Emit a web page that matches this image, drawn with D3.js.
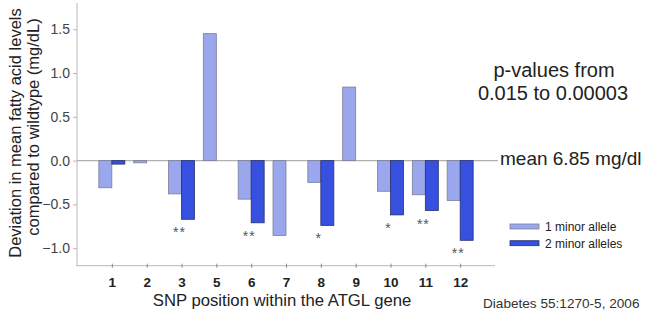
<!DOCTYPE html>
<html><head><meta charset="utf-8">
<script src="https://cdn.jsdelivr.net/npm/d3@7"></script>
<style>body{margin:0;background:#fff;font-family:"Liberation Sans",Arial,sans-serif;}</style>
</head><body><svg id="c" width="646" height="320"></svg>
<script>
const categories = ["1","2","3","5","6","7","8","9","10","11","12"];
const oneMinor = [-0.31,-0.025,-0.38,1.45,-0.44,-0.855,-0.25,0.84,-0.35,-0.39,-0.455];
const twoMinor = [-0.04,null,-0.67,null,-0.71,null,-0.74,null,-0.62,-0.57,-0.91];
const stars = ["","","**","","**","","*","","*","**","**"];
const yTicks = [-1.0,-0.5,0.0,0.5,1.0,1.5];
const seriesNames = ["1 minor allele","2 minor alleles"];

const svg = d3.select("#c");
const x = d3.scalePoint().domain(categories).range([77,495]).padding(1);
const y = d3.scaleLinear().domain([-1.2,1.8]).range([265.7,3]);
const bw = 13;
const lightFill = "#9ba7ec", darkFill = "#3650e0";
const FF = "Liberation Sans, Arial, sans-serif";

// zero line
svg.append("line").attr("x1",77).attr("x2",498).attr("y1",y(0)).attr("y2",y(0))
  .attr("stroke","#b0b0b0").attr("stroke-width",1.2);

// y axis
const ya = svg.append("g").attr("transform","translate(77,0)")
  .call(d3.axisLeft(y).tickValues(yTicks).tickFormat(d3.format(".1f")).tickSize(4).tickPadding(3));
ya.select(".domain").attr("stroke","#b8b8b8").attr("d","M0,3V265.7");
ya.selectAll(".tick line").attr("stroke","#b8b8b8");
ya.selectAll(".tick text").attr("fill","#444").style("font-size","14px").style("font-family",FF);

// x axis
const xa = svg.append("g").attr("transform","translate(0,265.7)")
  .call(d3.axisBottom(x).tickSize(0).tickPadding(12));
xa.select(".domain").attr("stroke","#b8b8b8").attr("d","M76,0H495");
xa.selectAll(".tick").append("line").attr("y1",-2).attr("y2",2).attr("stroke","#888");
xa.selectAll(".tick text").attr("fill","#222").style("font-size","13.5px").style("font-weight","bold").style("font-family",FF);

// bars
const g = svg.append("g");
categories.forEach((c,i)=>{
  const v1 = oneMinor[i];
  if (v1 !== null) g.append("rect").attr("x",x(c)-bw).attr("width",bw)
    .attr("y",y(Math.max(0,v1))).attr("height",Math.abs(y(v1)-y(0)))
    .attr("fill",lightFill).attr("stroke","#7a7f99").attr("stroke-width",0.8);
  const v2 = twoMinor[i];
  if (v2 !== null) g.append("rect").attr("x",x(c)).attr("width",bw)
    .attr("y",y(Math.max(0,v2))).attr("height",Math.abs(y(v2)-y(0)))
    .attr("fill",darkFill).attr("stroke","#2a3070").attr("stroke-width",0.8);
  if (stars[i]) {
    const base = Math.min(v2 ?? v1, v1);
    g.append("text").attr("x",x(c)-2).attr("y",y(base)+18).attr("text-anchor","middle")
      .attr("fill","#555").attr("letter-spacing","1px").style("font-size","14px").text(stars[i]);
  }
});

// axis titles
svg.append("text").attr("transform","translate(21,133) rotate(-90)").attr("text-anchor","middle")
  .attr("fill","#222").style("font-size","16.5px").text("Deviation in mean fatty acid levels");
svg.append("text").attr("transform","translate(39,127) rotate(-90)").attr("text-anchor","middle")
  .attr("fill","#222").style("font-size","16.5px").text("compared to wildtype (mg/dL)");
svg.append("text").attr("x",282).attr("y",306).attr("text-anchor","middle")
  .attr("fill","#222").style("font-size","16.7px").text("SNP position within the ATGL gene");

// annotations
svg.append("text").attr("x",554).attr("y",77).attr("text-anchor","middle")
  .attr("fill","#222").style("font-size","20px").text("p-values from");
svg.append("text").attr("x",553).attr("y",100).attr("text-anchor","middle")
  .attr("fill","#222").style("font-size","20px").text("0.015 to 0.00003");
svg.append("text").attr("x",500).attr("y",165)
  .attr("fill","#222").style("font-size","19px").text("mean 6.85 mg/dl");
svg.append("text").attr("x",483).attr("y",308)
  .attr("fill","#333").style("font-size","13.6px").text("Diabetes 55:1270-5, 2006");

// legend
const lg = svg.append("g");
[lightFill, darkFill].forEach((col,i)=>{
  lg.append("rect").attr("x",510).attr("y",224+i*16.7).attr("width",29).attr("height",5)
    .attr("fill",col).attr("stroke", i? "#2a3070":"#7a7f99").attr("stroke-width",0.8);
  lg.append("text").attr("x",545).attr("y",231+i*16.7).attr("fill","#222")
    .style("font-size","12px").text(seriesNames[i]);
});
</script></body></html>
